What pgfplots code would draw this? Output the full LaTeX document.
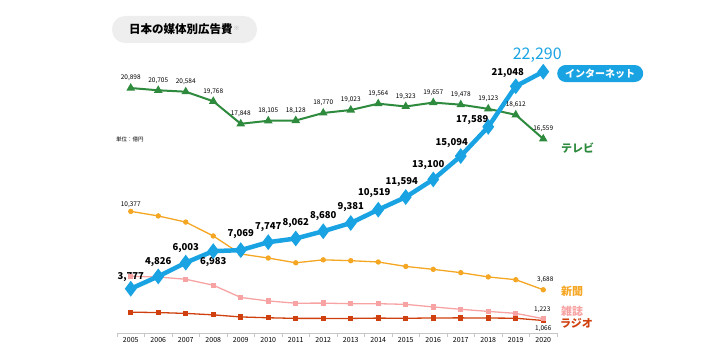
\documentclass[border=0pt]{standalone}
\usepackage{pgfplots}
\pgfplotsset{compat=1.18}
\usepackage{fontspec}
\setmainfont{Noto Sans CJK JP}
\definecolor{inet}{HTML}{1AA3E3}
\definecolor{tv}{HTML}{2E8B3E}
\definecolor{news}{HTML}{F5A623}
\definecolor{mag}{HTML}{F7A3A3}
\definecolor{radio}{HTML}{D0400F}
\definecolor{titlebg}{HTML}{EEEEEE}
\definecolor{asterisk}{HTML}{A8A8A8}
\begin{document}
\begin{tikzpicture}[x=1bp,y=1bp]
\path[use as bounding box] (0,0) rectangle (720,362);
\fill[titlebg, rounded corners=13bp] (112,346) rectangle (257,319);
\node[anchor=west,inner sep=0pt,font=\bfseries\fontsize{11.5bp}{13bp}\selectfont] at (129,332.5) {日本の媒体別広告費};
\node[anchor=center,inner sep=0pt,text=asterisk,font=\fontsize{6bp}{7bp}\selectfont] at (236.5,334) {※};
\node[anchor=west,inner sep=0pt,font=\fontsize{5.5bp}{6bp}\selectfont] at (116,223) {単位：億円};
\begin{axis}[
  at={(117bp,29bp)}, anchor=south west, scale only axis,
  width=440bp, height=333bp,
  xmin=-0.5, xmax=15.5, ymin=0, ymax=28408,
  axis y line=none, axis x line*=bottom,
  axis line style={gray!45, line width=0.6bp},
  xtick={0,...,15},
  xticklabels={2005,2006,2007,2008,2009,2010,2011,2012,2013,2014,2015,2016,2017,2018,2019,2020},
  major tick length=0pt,
  minor xtick={-0.5,0.5,...,15.5},
  minor tick length=4bp,
  tick align=outside,
  minor tick style={gray!45, line width=0.6bp},
  xticklabel style={font=\fontsize{7bp}{8bp}\selectfont, yshift=-1bp},
  clip=false,
  /pgf/number format/assume math mode=true,
  /pgf/number format/1000 sep={,},
]
\addplot[radio, line width=1.3bp, mark=square*, mark size=2bp] coordinates {
(0,1778)(1,1744)(2,1671)(3,1549)(4,1370)(5,1299)(6,1247)(7,1246)(8,1243)(9,1272)(10,1254)(11,1285)(12,1290)(13,1278)(14,1260)(15,1066)};
\addplot[mag, line width=1.3bp, mark=square*, mark size=2bp] coordinates {
(0,4842)(1,4777)(2,4585)(3,4078)(4,3034)(5,2733)(6,2542)(7,2551)(8,2499)(9,2500)(10,2443)(11,2223)(12,2023)(13,1841)(14,1675)(15,1223)};
\addplot[news, line width=1.3bp, mark=*, mark size=2bp] coordinates {
(0,10377)(1,9986)(2,9462)(3,8276)(4,6739)(5,6396)(6,5990)(7,6242)(8,6170)(9,6057)(10,5679)(11,5431)(12,5147)(13,4784)(14,4547)(15,3688)};
\addplot[tv, line width=2bp, mark=triangle*, mark size=3bp,
  nodes near coords={\pgfmathprintnumber{\pgfplotspointmeta}},
  nodes near coords style={black, font=\fontsize{6.5bp}{7bp}\selectfont, anchor=south, yshift=2.5bp}] coordinates {
(0,20898)(1,20705)(2,20584)(3,19768)(4,17848)(5,18105)(6,18128)(7,18770)(8,19023)(9,19564)(10,19323)(11,19657)(12,19478)(13,19123)(14,18612)(15,16559)};
\addplot[inet, line width=4.5bp, mark=diamond*, mark size=4.2bp] coordinates {
(0,3777)(1,4826)(2,6003)(3,6983)(4,7069)(5,7747)(6,8062)(7,8680)(8,9381)(9,10519)(10,11594)(11,13100)(12,15094)(13,17589)(14,21048)(15,22290)};
\tikzset{il/.style={font=\bfseries\fontsize{9.5bp}{10bp}\selectfont, inner sep=0pt}}
\node[il, yshift=12bp] at (axis cs:0,3777) {3,777};
\node[il, yshift=14bp] at (axis cs:1,4826) {4,826};
\node[il, yshift=15bp] at (axis cs:2,6003) {6,003};
\node[il, yshift=-11bp] at (axis cs:3,6983) {6,983};
\node[il, yshift=16bp] at (axis cs:4,7069) {7,069};
\node[il, yshift=15bp] at (axis cs:5,7747) {7,747};
\node[il, yshift=15bp] at (axis cs:6,8062) {8,062};
\node[il, yshift=15bp] at (axis cs:7,8680) {8,680};
\node[il, yshift=16bp] at (axis cs:8,9381) {9,381};
\node[il, xshift=-4bp, yshift=17bp] at (axis cs:9,10519) {10,519};
\node[il, xshift=-4bp, yshift=15bp] at (axis cs:10,11594) {11,594};
\node[il, xshift=-5bp, yshift=14bp] at (axis cs:11,13100) {13,100};
\node[il, xshift=-9bp, yshift=13bp] at (axis cs:12,15094) {15,094};
\node[il, xshift=-16bp, yshift=7bp] at (axis cs:13,17589) {17,589};
\node[il, xshift=-8bp, yshift=13bp] at (axis cs:14,21048) {21,048};
\node[inet, inner sep=0pt, font=\fontsize{16bp}{17bp}\selectfont, xshift=-6bp, yshift=16.5bp] at (axis cs:15,22290) {22,290};
\tikzset{sl/.style={font=\fontsize{6.5bp}{7bp}\selectfont, inner sep=0pt}}
\node[sl, yshift=7bp] at (axis cs:0,10377) {10,377};
\node[sl, xshift=2bp, yshift=10bp] at (axis cs:15,3688) {3,688};
\node[sl, xshift=-1bp, yshift=9bp] at (axis cs:15,1223) {1,223};
\node[sl, yshift=-8bp] at (axis cs:15,1066) {1,066};
\end{axis}
\node[fill=inet, text=white, rounded corners=8.5bp, minimum height=17bp, inner xsep=8bp, inner ysep=0pt, anchor=west, font=\bfseries\fontsize{10bp}{11bp}\selectfont] at (557,288.5) {インターネット};
\tikzset{rl/.style={anchor=west, inner sep=0pt, font=\bfseries\fontsize{11bp}{12bp}\selectfont}}
\node[rl, text=tv] at (561,214) {テレビ};
\node[rl, text=news] at (561,71) {新聞};
\node[rl, text=mag] at (561,51) {雑誌};
\node[rl, text=radio] at (560,39) {ラジオ};
\end{tikzpicture}
\end{document}
